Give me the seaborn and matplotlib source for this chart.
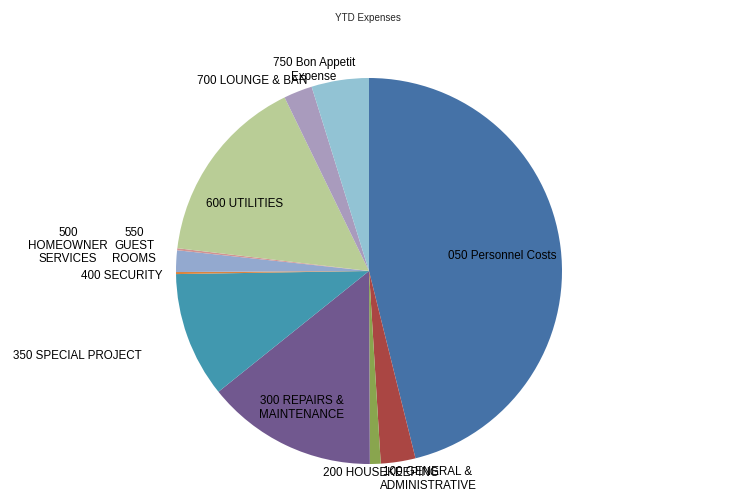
import matplotlib
matplotlib.use("Agg")
import matplotlib.pyplot as plt
import seaborn as sns

sns.set_style("white")
plt.rcParams['font.family'] = ['Liberation Sans', 'DejaVu Sans']

categories = ["050 Personnel Costs", "100 GENERAL &\nADMINISTRATIVE", "200 HOUSEKEEPING",
              "300 REPAIRS &\nMAINTENANCE", "350 SPECIAL PROJECT", "400 SECURITY",
              "500\nHOMEOWNER\nSERVICES", "550\nGUEST\nROOMS", "600 UTILITIES",
              "700 LOUNGE & BAR", "750 Bon Appetit\nExpense"]
values = [46.1, 2.9, 0.9, 14.3, 10.5, 0.17, 1.8, 0.17, 15.9, 2.4, 4.8]
colors = ["#4572A7", "#AA4643", "#89A54E", "#71588F", "#4198AF", "#DB843D",
          "#93A9CF", "#D19392", "#B9CD96", "#A99BBD", "#92C3D4"]

# label centre positions in pixels (layout)
label_px = [(502, 256), (428, 479), (381, 473), (302, 408), (77, 356), (122, 276),
            (68, 246), (134, 246), (245, 204), (252, 81), (314, 70)]

W, H = 731, 503
fig = plt.figure(figsize=(W / 100, H / 100), dpi=100)
ax = fig.add_axes([0, 0, 1, 1])
cx, cy, r = 369, H - 271, 193
ax.pie(values, colors=colors, startangle=90, counterclock=False,
       center=(cx, cy), radius=r, frame=True,
       wedgeprops=dict(linewidth=0))
ax.set_xlim(0, W)
ax.set_ylim(0, H)
ax.set_aspect('equal')
ax.axis('off')

for lab, (px, py) in zip(categories, label_px):
    ax.text(px, H - py, lab, ha='center', va='center', fontsize=8.4,
            color='black', linespacing=1.15)

ax.text(368, H - 18, "YTD Expenses", ha='center', va='center', fontsize=7.1)

fig.savefig("out.png", dpi=100)
